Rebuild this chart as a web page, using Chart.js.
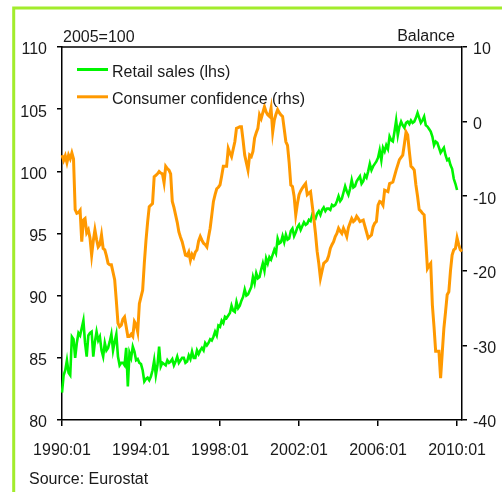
<!DOCTYPE html>
<html><head><meta charset="utf-8">
<script src="https://cdn.jsdelivr.net/npm/chart.js@4.4.0/dist/chart.umd.min.js"></script>
<style>html,body{margin:0;padding:0;background:#fff;overflow:hidden}canvas{display:block}</style>
</head><body>
<canvas id="c" width="502" height="492"></canvas>
<script>
// ---- categories (monthly, 1990:01 .. 2010:04) ----
const months = [];
for (let y = 1990; y <= 2010; y++) {
  for (let m = 1; m <= 12; m++) {
    if (y === 2010 && m > 4) break;
    months.push(y + ':' + String(m).padStart(2, '0'));
  }
}

// ---- series: Retail sales, 2005=100 (left axis) ----
const retailSales = [
  82.2,83.6,84.0,84.8,83.8,83.6,86.7,86.5,85.0,86.2,87.0,86.8,
  87.4,88.0,86.2,85.1,86.8,87.0,87.1,85.1,86.3,87.1,86.4,86.7,
  85.6,85.1,86.2,85.6,85.8,86.3,86.9,85.6,86.3,86.9,85.1,84.4,
  84.6,84.6,84.4,85.8,82.7,85.4,85.0,85.9,85.5,84.8,84.9,84.6,
  84.5,84.0,83.1,83.3,83.4,83.2,83.5,84.0,84.8,83.6,84.4,85.9,
  84.3,84.6,84.5,84.4,84.8,84.6,84.7,84.9,84.4,84.7,85.1,84.6,
  84.8,85.0,85.0,84.6,84.7,85.2,84.9,85.5,85.0,85.0,85.6,85.3,
  85.6,85.8,85.6,86.2,86.0,86.2,86.5,86.4,86.7,87.1,86.8,87.6,
  87.5,88.0,87.8,88.3,88.2,88.4,88.6,89.2,88.8,88.7,89.5,89.0,
  89.2,89.6,89.9,90.5,90.0,90.1,90.4,90.7,91.5,91.0,91.8,91.4,
  91.5,92.1,92.6,92.0,93.0,92.6,93.1,92.9,93.3,93.7,93.4,94.6,
  94.2,94.3,94.8,94.3,94.9,94.5,94.6,95.2,95.4,94.8,95.1,95.5,
  95.7,95.3,95.6,95.9,95.7,95.8,96.1,96.0,96.5,96.3,96.2,96.6,
  96.8,96.5,96.9,97.1,96.8,97.0,97.0,96.9,97.3,97.2,97.3,97.6,
  98.0,97.6,97.8,98.3,98.8,98.4,98.1,98.6,99.3,98.7,98.8,99.2,
  99.4,99.6,99.0,99.2,99.7,99.5,100.0,100.6,100.1,100.4,100.6,100.8,
  101.1,101.7,100.9,101.9,101.6,102.1,101.8,102.8,102.5,102.4,103.2,104.1,
  102.9,103.6,104.0,103.7,103.5,103.9,104.0,103.8,104.1,103.9,104.0,104.3,
  104.7,104.3,103.9,104.1,104.4,103.7,103.6,103.4,103.2,102.8,102.1,102.4,
  102.3,101.9,101.5,101.7,101.9,101.3,100.9,101.0,100.5,100.2,99.4,99.0,
  98.5,null,null,null
];

// ---- series: Consumer confidence, balance (right axis) ----
const consumerConfidence = [
  -4.5,-5.2,-4.6,-5.5,-4.5,-5.0,-4.2,-5.0,-11.8,-12.3,-12.2,-11.9,
  -16.1,-13.2,-13.0,-14.9,-14.5,-15.6,-17.9,-16.0,-14.5,-15.8,-16.8,-16.5,
  -15.2,-17.0,-17.2,-18.0,-19.0,-19.2,-19.2,-20.2,-21.2,-24.0,-27.0,-27.5,
  -27.3,-26.5,-26.2,-27.5,-28.8,-28.8,-28.5,-28.8,-26.8,-27.2,-28.2,-24.4,
  -23.5,-22.6,-19.0,-16.0,-13.5,-11.4,-11.2,-11.0,-7.4,-7.2,-7.0,-6.7,
  -6.9,-7.0,-8.2,-6.0,-6.3,-6.5,-7.0,-10.7,-11.5,-12.5,-13.5,-14.8,
  -15.5,-16.1,-17.0,-17.9,-18.0,-17.5,-18.6,-17.8,-18.2,-17.5,-17.2,-16.0,
  -15.4,-15.9,-16.3,-16.5,-16.8,-15.5,-14.3,-12.5,-10.7,-9.8,-9.0,-8.8,
  -8.5,-7.3,-6.0,-6.0,-6.0,-3.6,-4.2,-4.7,-3.7,-2.7,-0.9,-0.8,
  -0.7,-0.7,-2.5,-4.5,-5.5,-6.5,-4.5,-4.7,-4.0,-2.2,-1.5,-0.9,
  0.9,0.4,1.2,2.0,1.3,0.9,0.7,1.8,-1.4,0.2,1.0,1.6,
  1.2,0.9,0.7,-1.0,-2.7,-3.2,-5.5,-8.5,-8.7,-10.0,-12.5,-11.0,
  -9.8,-9.3,-8.9,-8.6,-8.3,-9.8,-9.6,-9.4,-11.2,-13.0,-15.0,-17.4,
  -19.0,-21.0,-20.0,-19.0,-18.8,-18.6,-18.0,-17.0,-16.5,-16.1,-15.4,-15.0,
  -14.3,-14.7,-15.0,-14.3,-14.8,-15.4,-14.2,-13.6,-13.0,-13.4,-13.2,-12.7,
  -13.0,-13.4,-13.3,-13.2,-14.0,-14.8,-15.6,-15.4,-15.2,-14.1,-13.6,-13.4,
  -11.2,-10.7,-10.8,-11.2,-9.2,-9.3,-9.4,-8.3,-8.2,-8.1,-7.3,-6.5,
  -5.8,-5.1,-4.8,-4.5,-3.0,-1.4,-1.8,-4.0,-6.0,-6.2,-6.5,-8.5,
  -10.0,-11.8,-12.0,-12.3,-12.5,-16.0,-19.7,-19.3,-19.0,-24.6,-27.5,-30.8,
  -30.8,-30.8,-34.4,-31.0,-27.7,-25.5,-23.2,-22.8,-20.0,-17.9,-17.2,-17.0,
  -15.6,-16.5,-17.2,-17.4
];

// ---- labels / axes text ----
const seriesLabels = ['Retail sales (lhs)', 'Consumer confidence (rhs)'];
const leftAxisTitle = '2005=100';
const rightAxisTitle = 'Balance';
const sourceNote = 'Source: Eurostat';
const xTickEvery = 48; // a labelled tick every 4 years

const FONT = "'Liberation Sans', Arial, sans-serif";
const TEXT = '#1a1a1a';
Chart.defaults.font.family = FONT;
Chart.defaults.font.size = 16;
Chart.defaults.color = TEXT;

const decor = {
  id: 'decor',
  beforeDraw(chart) {
    const ctx = chart.ctx;
    ctx.save();
    ctx.fillStyle = '#fff';
    ctx.fillRect(0, 0, chart.width, chart.height);
    // green frame (left + top visible)
    ctx.strokeStyle = '#a2ec2c';
    ctx.lineWidth = 3;
    ctx.beginPath();
    ctx.moveTo(13.7, chart.height);
    ctx.lineTo(13.7, 8);
    ctx.lineTo(chart.width, 8);
    ctx.stroke();
    ctx.restore();
  },
  afterDraw(chart) {
    const ctx = chart.ctx;
    const a = chart.chartArea;
    ctx.save();
    // top border of plot box
    ctx.strokeStyle = '#000';
    ctx.lineWidth = 1.5;
    ctx.beginPath();
    ctx.moveTo(a.left, a.top);
    ctx.lineTo(a.right, a.top);
    ctx.stroke();
    // texts
    ctx.fillStyle = TEXT;
    ctx.font = '16px ' + FONT;
    ctx.textBaseline = 'alphabetic';
    ctx.textAlign = 'left';
    ctx.fillText(leftAxisTitle, 63, 41.5);
    ctx.textAlign = 'right';
    ctx.fillText(rightAxisTitle, 455, 41);
    ctx.textAlign = 'left';
    ctx.fillText(sourceNote, 29, 484);
    // legend
    chart.data.datasets.forEach((ds, i) => {
      const y = 69.5 + i * 27.3;
      ctx.strokeStyle = ds.borderColor;
      ctx.lineWidth = 3;
      ctx.beginPath();
      ctx.moveTo(77, y);
      ctx.lineTo(108, y);
      ctx.stroke();
      ctx.fillText(ds.label, 112, y + 7.5);
    });
    ctx.restore();
  }
};

new Chart(document.getElementById('c'), {
  type: 'line',
  data: {
    labels: months,
    datasets: [
      {
        label: seriesLabels[0],
        data: retailSales,
        yAxisID: 'y',
        borderColor: '#00f500',
        borderWidth: 2.6,
        pointRadius: 0,
        tension: 0,
        spanGaps: false,
        order: 2
      },
      {
        label: seriesLabels[1],
        data: consumerConfidence,
        yAxisID: 'y1',
        borderColor: '#ff9900',
        borderWidth: 3,
        pointRadius: 0,
        tension: 0,
        order: 1
      }
    ]
  },
  options: {
    responsive: false,
    animation: false,
    events: [],
    layout: { padding: { top: 47, left: 0, right: 0, bottom: 0 } },
    plugins: { legend: { display: false }, tooltip: { enabled: false } },
    scales: {
      x: {
        type: 'category',
        offset: false,
        grid: { display: true, drawOnChartArea: false, drawTicks: true, tickLength: 6, color: '#000', lineWidth: 1.5 },
        border: { display: true, color: '#000', width: 1.5 },
        ticks: {
          autoSkip: false, maxRotation: 0, minRotation: 0, padding: 15,
          callback(v) { return this.getLabelForValue(v); }
        },
        afterBuildTicks(s) { s.ticks = s.ticks.filter(t => t.value % xTickEvery === 0); },
        afterFit(s) { s.height = 72; }
      },
      y: {
        position: 'left',
        min: 80, max: 110,
        grid: { display: true, drawOnChartArea: false, drawTicks: true, tickLength: 5, color: '#000', lineWidth: 1.5 },
        border: { display: true, color: '#000', width: 1.5 },
        ticks: { stepSize: 5, padding: 10, labelOffset: 3 },
        afterFit(s) { s.width = 62; }
      },
      y1: {
        position: 'right',
        min: -40, max: 10,
        grid: { display: true, drawOnChartArea: false, drawTicks: true, tickLength: 5, color: '#000', lineWidth: 1.5 },
        border: { display: true, color: '#000', width: 1.5 },
        ticks: { stepSize: 10, padding: 6, labelOffset: 3 },
        afterFit(s) { s.width = 40; }
      }
    }
  },
  plugins: [decor]
});
</script>
</body></html>
